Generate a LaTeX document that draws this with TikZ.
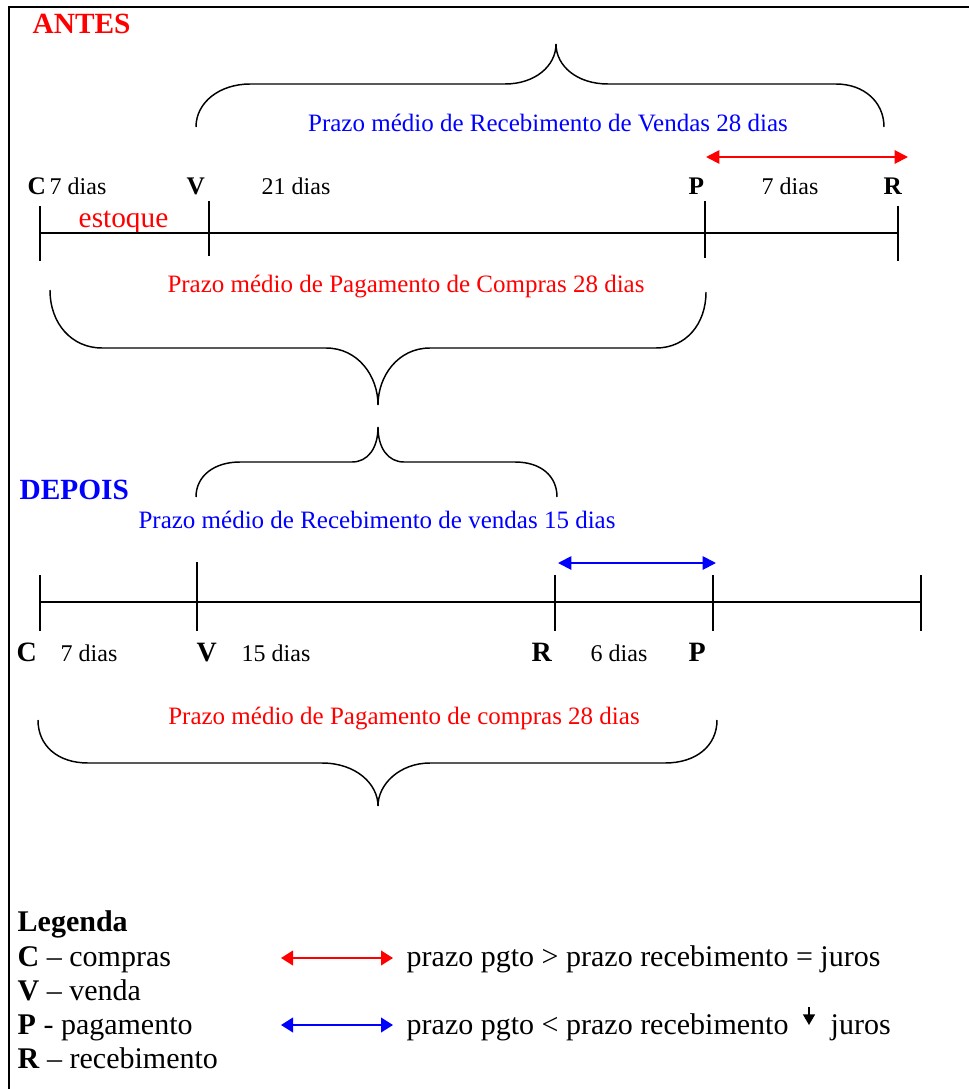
\documentclass[tikz,border=0pt]{standalone}
\usepackage{fontspec}
\setmainfont{Liberation Serif}
\usetikzlibrary{arrows.meta}

\tikzset{every picture/.style={line width=1.1pt}}
\tikzset{
  txt/.style={inner sep=0pt, anchor=base west},
  ctxt/.style={inner sep=0pt, anchor=base},
  dias/.style={txt, font=\fontsize{18}{20}\selectfont},
  letra/.style={txt, font=\fontsize{19}{21}\selectfont\bfseries},
  letrab/.style={txt, font=\fontsize{21}{23}\selectfont\bfseries},
  prazo/.style={ctxt, font=\fontsize{18.75}{21}\selectfont},
  titulo/.style={txt, font=\fontsize{22}{24}\selectfont\bfseries},
  leg/.style={txt, font=\fontsize{22.5}{25}\selectfont},
  seta/.style={{Triangle[length=10pt,width=10pt]}-{Triangle[length=10pt,width=10pt]}, line width=1.4pt},
  setaleg/.style={{Triangle[length=9pt,width=11pt]}-{Triangle[length=9pt,width=11pt]}, line width=1.4pt}
}

\begin{document}
\begin{tikzpicture}[x=0.75pt,y=0.75pt,yscale=-1,xscale=1]
	\useasboundingbox (0,0) rectangle (969,1089);
	%frame
	\draw [line width=0.9pt] (969,7) -- (9,7) -- (9,1089);

	% ANTES
	\node [titulo, red] (antes) at (32,33) {ANTES};

	%Curve Lines: brace over the sales term
	\draw (196,127) .. controls (196,102) and (220,84) .. (250,84) -- (505,84) .. controls (535,84) and (556,66) .. (556,44) .. controls (556,66) and (577,84) .. (608,84) -- (836,84) .. controls (864,84) and (884,102) .. (884,127) ;
	% Text Node
	\node [prazo, blue] (prvA) at (548,131) {Prazo médio de Recebimento de Vendas 28 dias};

	% red double arrow
	\coordinate (setaA1) at (706,157);
	\coordinate (setaA2) at (908,157);
	\draw [seta, red] (setaA1) -- (setaA2);

	% labels over the first time line
	\node [letra] (cA) at (27,194) {C};
	\node [dias] (d7A) at (49,194) {7 dias};
	\node [letra] (vA) at (186,194) {V};
	\node [dias] (d21A) at (261,194) {21 dias};
	\node [letra] (pA) at (688,194) {P};
	\node [dias] (d7bA) at (761,194) {7 dias};
	\node [letra] (rA) at (883,194) {R};
	\node [txt, red, font=\fontsize{22}{24}\selectfont] (estoque) at (78,227) {estoque};

	%Straight Lines: first time line and ticks
	\draw (40,233) -- (898,233) ;
	\draw (40,206) -- (40,261) ;
	\draw (209,201) -- (209,256) ;
	\draw (705,201) -- (705,258) ;
	\draw (898,206) -- (898,261) ;

	% Text Node
	\node [prazo, red] (prpA) at (406,292) {Prazo médio de Pagamento de Compras 28 dias};
	%Curve Lines: brace under the payment term
	\draw (50,290) .. controls (50,324) and (72,348) .. (102,348) -- (326,348) .. controls (358,348) and (378,376) .. (378,405) .. controls (378,376) and (398,348) .. (430,348) -- (656,348) .. controls (686,348) and (706,324) .. (706,292) ;

	% DEPOIS
	\node [titulo, blue] (depois) at (19,499) {DEPOIS};
	%Curve Lines: brace over the new sales term
	\draw (196,497) .. controls (196,476) and (214,462) .. (240,462) -- (352,462) .. controls (368,462) and (378,448) .. (378,427) .. controls (378,448) and (388,462) .. (404,462) -- (515,462) .. controls (541,462) and (557,476) .. (557,497) ;
	% Text Node
	\node [prazo, blue] (prvD) at (377,528) {Prazo médio de Recebimento de vendas 15 dias};

	% blue double arrow
	\coordinate (setaD1) at (558,563);
	\coordinate (setaD2) at (716,563);
	\draw [seta, blue] (setaD1) -- (setaD2);

	%Straight Lines: second time line and ticks
	\draw (40,602) -- (921,602) ;
	\draw (40,575) -- (40,631) ;
	\draw (197,562) -- (197,631) ;
	\draw (555,575) -- (555,631) ;
	\draw (713,575) -- (713,631) ;
	\draw (921,575) -- (921,631) ;

	% labels under the second time line
	\node [letrab] (cD) at (16,661) {C};
	\node [dias] (d7D) at (60,661) {7 dias};
	\node [letrab] (vD) at (196,661) {V};
	\node [dias] (d15D) at (241,661) {15 dias};
	\node [letrab] (rD) at (531,661) {R};
	\node [dias] (d6D) at (590,661) {6 dias};
	\node [letrab] (pD) at (688,661) {P};

	% Text Node
	\node [prazo, red] (prpD) at (404,724) {Prazo médio de Pagamento de compras 28 dias};
	%Curve Lines: brace under the new payment term
	\draw (38,720) .. controls (38,746) and (58,763) .. (88,763) -- (322,763) .. controls (356,763) and (378,784) .. (378,806) .. controls (378,784) and (400,763) .. (430,763) -- (665,763) .. controls (696,763) and (717,746) .. (717,720) ;

	% Legenda
	\node [leg, font=\fontsize{22.5}{25}\selectfont\bfseries] (legenda) at (17,931) {Legenda};
	\node [leg] (legC) at (17,966) {\textbf{C} – compras};
	\node [leg] (legV) at (17,1000) {\textbf{V} – venda};
	\node [leg] (legP) at (17,1034) {\textbf{P} - pagamento};
	\node [leg] (legR) at (17,1068) {\textbf{R} – recebimento};

	\coordinate (legA1) at (281,958);
	\coordinate (legA2) at (393,958);
	\draw [setaleg, red] (legA1) -- (legA2);
	\node [leg] (juros1) at (406,966) {prazo pgto > prazo recebimento = juros};

	\coordinate (legB1) at (281,1025);
	\coordinate (legB2) at (393,1025);
	\draw [setaleg, blue] (legB1) -- (legB2);
	\node [leg] (juros2) at (406,1034) {prazo pgto < prazo recebimento};
	\coordinate (desce1) at (809,1007);
	\coordinate (desce2) at (809,1025);
	\draw [-{Triangle[length=8pt,width=9pt]}, line width=1pt] (desce1) -- (desce2);
	\node [leg] (juros3) at (830,1034) {juros};

\end{tikzpicture}
\end{document}
